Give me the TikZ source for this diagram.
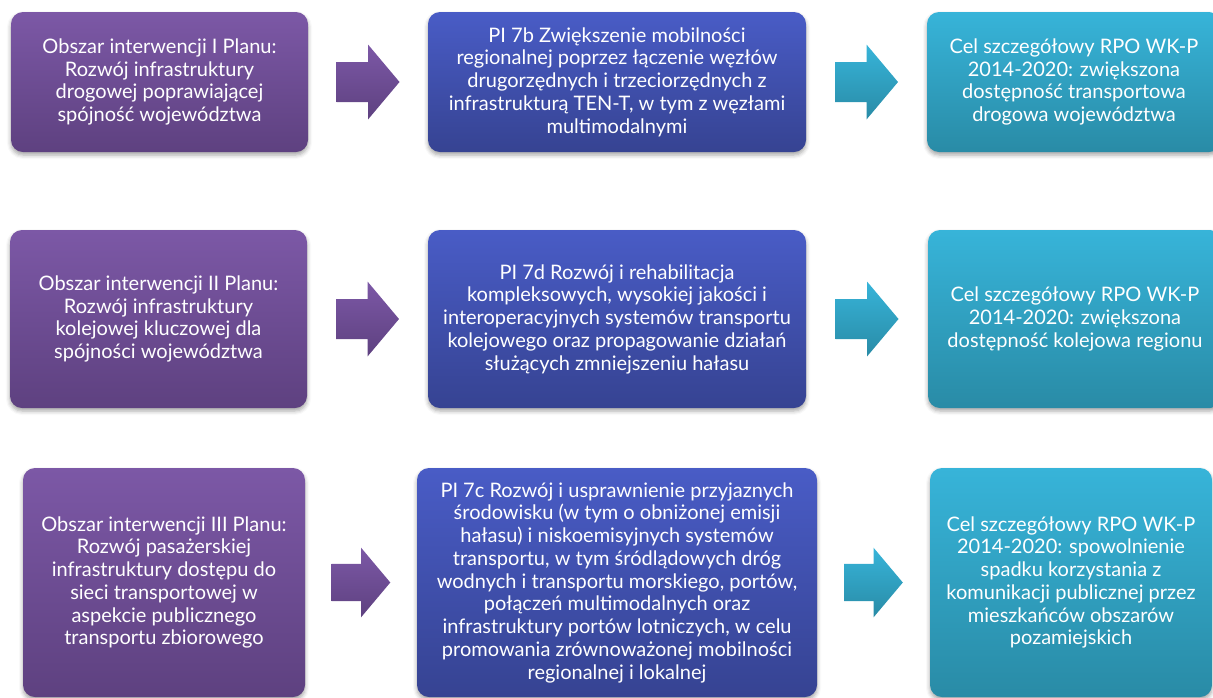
\documentclass[tikz,border=0pt]{standalone}
\usepackage{fontspec}
\setmainfont{Lato}
\usetikzlibrary{shadows.blur,calc}
\definecolor{ptop}{RGB}{124,88,166}
\definecolor{pbot}{RGB}{94,65,128}
\definecolor{btop}{RGB}{73,92,198}
\definecolor{bbot}{RGB}{54,67,146}
\definecolor{ttop}{RGB}{55,180,217}
\definecolor{tbot}{RGB}{41,139,166}
\tikzset{
  card/.style={rounded corners=12pt, align=center, text=white, inner sep=0pt,
    font=\fontsize{20}{22.75}\selectfont,
    blur shadow={shadow xshift=0pt, shadow yshift=-3pt, shadow blur radius=4pt, shadow opacity=35}},
  pcard/.style={card, top color=ptop, bottom color=pbot},
  bcard/.style={card, top color=btop, bottom color=bbot},
  tcard/.style={card, top color=ttop, bottom color=tbot},
}
\newcommand\blockarrow[5]{%
  \path (#1.east) -- (#2.west) coordinate[pos=.5] (mid#1);
  \begin{scope}[shift={(mid#1)}, scale=#5]
    \shade[top color=#3, bottom color=#4]
      (-31.5,-20) -- (0,-20) -- (0,-37.5) -- (31.5,0) -- (0,37.5) -- (0,20) -- (-31.5,20) -- cycle;
  \end{scope}}
\begin{document}
\begin{tikzpicture}[x=1pt,y=-1pt]
\useasboundingbox (0,0) rectangle (1213,697);
% row 1
\node[pcard, minimum width=297pt, minimum height=140pt] (a1) at (159.5,82)
  {Obszar interwencji I Planu:\\Rozwój infrastruktury\\drogowej poprawiającej\\spójność województwa};
\node[bcard, minimum width=378pt, minimum height=140pt] (b1) at (617,82)
  {PI 7b Zwiększenie mobilności\\regionalnej poprzez łączenie węzłów\\drugorzędnych i trzeciorzędnych z\\infrastrukturą TEN-T, w tym z węzłami\\multimodalnymi};
\node[tcard, minimum width=294pt, minimum height=140pt] (c1) at (1074,82)
  {Cel szczegółowy RPO WK-P\\2014-2020: zwiększona\\dostępność transportowa\\drogowa województwa};
% row 2
\node[pcard, minimum width=297pt, minimum height=178pt] (a2) at (158.5,319)
  {Obszar interwencji II Planu:\\Rozwój infrastruktury\\kolejowej kluczowej dla\\spójności województwa};
\node[bcard, minimum width=378pt, minimum height=178pt] (b2) at (617,319)
  {PI 7d Rozwój i rehabilitacja\\kompleksowych, wysokiej jakości i\\interoperacyjnych systemów transportu\\kolejowego oraz propagowanie działań\\służących zmniejszeniu hałasu};
\node[tcard, minimum width=294pt, minimum height=178pt] (c2) at (1075,319)
  {Cel szczegółowy RPO WK-P\\2014-2020: zwiększona\\dostępność kolejowa regionu};
% row 3
\node[pcard, minimum width=282pt, minimum height=229pt] (a3) at (164,582.5)
  {Obszar interwencji III Planu:\\Rozwój pasażerskiej\\infrastruktury dostępu do\\sieci transportowej w\\aspekcie publicznego\\transportu zbiorowego};
\node[bcard, minimum width=400pt, minimum height=229pt] (b3) at (617,582.5)
  {PI 7c Rozwój i usprawnienie przyjaznych\\środowisku (w tym o obniżonej emisji\\hałasu) i niskoemisyjnych systemów\\transportu, w tym śródlądowych dróg\\wodnych i transportu morskiego, portów,\\połączeń multimodalnych oraz\\infrastruktury portów lotniczych, w celu\\promowania zrównoważonej mobilności\\regionalnej i lokalnej};
\node[tcard, minimum width=282pt, minimum height=229pt] (c3) at (1071,582.5)
  {Cel szczegółowy RPO WK-P\\2014-2020: spowolnienie\\spadku korzystania z\\komunikacji publicznej przez\\mieszkańców obszarów\\pozamiejskich};
% arrows
\blockarrow{a1}{b1}{ptop}{pbot}{1}
\blockarrow{b1}{c1}{ttop}{tbot}{1}
\blockarrow{a2}{b2}{ptop}{pbot}{1}
\blockarrow{b2}{c2}{ttop}{tbot}{1}
\blockarrow{a3}{b3}{ptop}{pbot}{0.93}
\blockarrow{b3}{c3}{ttop}{tbot}{0.93}
\end{tikzpicture}
\end{document}
